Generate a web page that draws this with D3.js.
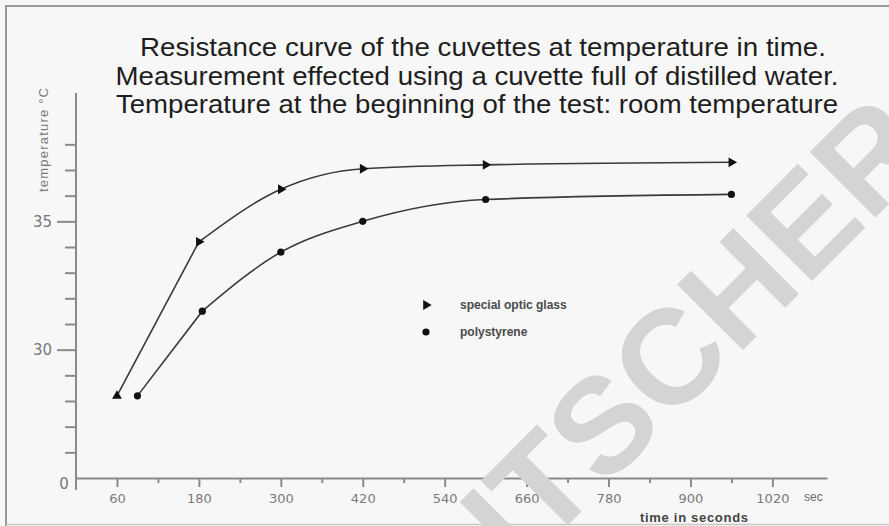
<!DOCTYPE html>
<html>
<head>
<meta charset="utf-8">
<script src="https://cdn.jsdelivr.net/npm/d3@7"></script>
<style>
  body { margin: 0; background: #f7f7f7; }
  svg { display: block; }
</style>
</head>
<body>
<div id="chart"></div>
<script>
// --- data ---
const titleLines = [
  "Resistance curve of the cuvettes at temperature in time.",
  "Measurement effected using a cuvette full of distilled water.",
  "Temperature at the beginning of the test: room temperature"
];
const glassTime = [60, 180, 300, 420, 600, 960];
const glassTemp = [28.2, 34.2, 36.25, 37.05, 37.2, 37.3];
const polyTime = [90, 185, 300, 420, 600, 960];
const polyTemp = [28.2, 31.5, 33.8, 35.0, 35.85, 36.05];
const seriesNames = ["special optic glass", "polystyrene"];
const xMajorTicks = [60, 180, 300, 420, 540, 660, 780, 900, 1020];
const xMinorTicks = [120, 240, 360, 480, 600, 720, 840, 960];
const yMajorTicks = [30, 35];
const yMinorTicks = [26, 27, 28, 29, 31, 32, 33, 34, 36, 37, 38];

const width = 889, height = 526;

const svg = d3.select("#chart").append("svg")
    .attr("width", width)
    .attr("height", height)
    .attr("font-family", "'Liberation Sans', Arial, sans-serif");

svg.append("rect").attr("width", width).attr("height", height).attr("fill", "#f7f7f7");

// scanned page frame
svg.append("path")
    .attr("d", `M6,${height + 2}V6H${width + 2}`)
    .attr("fill", "none").attr("stroke", "#9a9a9a").attr("stroke-width", 2);
svg.append("line")
    .attr("x1", 6).attr("x2", width).attr("y1", 524.5).attr("y2", 524.5)
    .attr("stroke", "#c8c8c8").attr("stroke-width", 1.5);

// title (widths matched to the scan)
const titleWidths = [686, 723, 722];
const titleCenters = [483, 477, 477];
svg.append("g")
  .selectAll("text")
  .data(titleLines)
  .join("text")
    .attr("x", (d, i) => titleCenters[i])
    .attr("y", (d, i) => 56 + i * 28.5)
    .attr("text-anchor", "middle")
    .attr("font-family", "'Liberation Sans Narrow', 'Arial Narrow', 'Liberation Sans', sans-serif")
    .attr("font-size", 26).attr("fill", "#1e1e1e")
    .attr("textLength", (d, i) => titleWidths[i])
    .attr("lengthAdjust", "spacingAndGlyphs")
    .text(d => d);

const x = d3.scaleLinear().domain([0, 1100]).range([76, 827]);
const y = d3.scaleLinear().domain([25, 40]).range([478, 93]);

const axisColor = "#8a8a8a";
const labelColor = "#7a7a7a";

// x axis: major + minor ticks
const gx = svg.append("g").attr("transform", `translate(0,${y(25)})`);
gx.call(d3.axisBottom(x).tickValues(xMajorTicks).tickFormat(d3.format("d"))
    .tickSize(9).tickSizeOuter(0).tickPadding(7));
const gxMinor = svg.append("g").attr("transform", `translate(0,${y(25)})`);
gxMinor.call(d3.axisBottom(x).tickValues(xMinorTicks).tickSize(5).tickSizeOuter(0).tickFormat(""));
gxMinor.select(".domain").remove();

// y axis: major + minor ticks
const gy = svg.append("g").attr("transform", `translate(${x(0)},0)`);
gy.call(d3.axisLeft(y).tickValues(yMajorTicks).tickSize(19).tickSizeOuter(0).tickPadding(5));
gy.select(".domain").remove();
const gyMinor = svg.append("g").attr("transform", `translate(${x(0)},0)`);
gyMinor.call(d3.axisLeft(y).tickValues(yMinorTicks).tickSize(11).tickSizeOuter(0).tickFormat(""));
gyMinor.select(".domain").remove();
svg.append("line")
    .attr("class", "yline")
    .attr("x1", x(0)).attr("x2", x(0))
    .attr("y1", y(40)).attr("y2", y(25) + 12);

svg.selectAll(".tick line, .domain, .yline")
    .attr("stroke", axisColor).attr("stroke-width", 2);
svg.selectAll(".tick text")
    .attr("font-family", "'DejaVu Sans', sans-serif")
    .attr("font-size", 13).attr("fill", labelColor);
gy.selectAll(".tick text").attr("font-size", 15);

// broken-axis origin label
svg.append("text")
    .attr("x", x(0) - 12).attr("y", y(25) + 11)
    .attr("text-anchor", "middle")
    .attr("font-family", "'DejaVu Sans', sans-serif")
    .attr("font-size", 15).attr("fill", labelColor)
    .text("0");

svg.append("text")
    .attr("x", x(1080)).attr("y", y(25) + 23)
    .attr("text-anchor", "middle")
    .attr("font-size", 12).attr("fill", "#6a6a6a")
    .text("sec");

svg.append("text")
    .attr("x", 694).attr("y", 522)
    .attr("text-anchor", "middle")
    .attr("font-size", 13).attr("font-weight", "bold").attr("fill", "#444")
    .attr("textLength", 108)
    .text("time in seconds");

svg.append("text")
    .attr("transform", "translate(43,140) rotate(-90)")
    .attr("text-anchor", "middle")
    .attr("dy", "0.35em")
    .attr("font-size", 13).attr("fill", "#7a7a7a")
    .attr("textLength", 104)
    .text("temperature °C");

// curves: straight rise to the second reading, smooth after it
const line = d3.line()
    .x(d => x(d[0]))
    .y(d => y(d[1]));
const smooth = d3.line()
    .x(d => x(d[0]))
    .y(d => y(d[1]))
    .curve(d3.curveMonotoneX);

const glass = d3.zip(glassTime, glassTemp);
const poly = d3.zip(polyTime, polyTemp);

[glass, poly].forEach(s => {
  svg.append("path")
      .attr("d", line(s.slice(0, 2)) + smooth(s.slice(1)).replace(/^M/, "L"))
      .attr("fill", "none")
      .attr("stroke", "#3a3a3a").attr("stroke-width", 1.6);
});

const tri = d3.symbol(d3.symbolTriangle, 42);

svg.selectAll(".glass-pt")
  .data(glass)
  .join("path")
    .attr("class", "glass-pt")
    .attr("d", tri)
    .attr("transform", (d, i) => `translate(${x(d[0])},${y(d[1])}) rotate(${i === 0 ? 0 : 90})`)
    .attr("fill", "#111");

svg.selectAll(".poly-pt")
  .data(poly)
  .join("circle")
    .attr("class", "poly-pt")
    .attr("cx", d => x(d[0]))
    .attr("cy", d => y(d[1]))
    .attr("r", 3.6)
    .attr("fill", "#111");

// legend
const legend = svg.append("g").attr("transform", "translate(426,305)");
seriesNames.forEach((name, i) => {
  const row = legend.append("g").attr("transform", `translate(0,${i * 27})`);
  if (i === 0) {
    row.append("path").attr("d", tri).attr("transform", "rotate(90)").attr("fill", "#111");
  } else {
    row.append("circle").attr("r", 3.6).attr("fill", "#111");
  }
  row.append("text")
    .attr("x", 34).attr("dy", "0.35em")
    .attr("font-size", 12).attr("font-weight", "bold").attr("fill", "#4a4a4a")
    .text(name);
});

// watermark across the scan
svg.append("text")
    .attr("transform", "translate(938,155) rotate(-45)")
    .attr("text-anchor", "end")
    .attr("font-size", 135).attr("font-weight", "bold")
    .attr("fill", "#d4d4d4")
    .text("ITSCHER");
</script>
</body>
</html>
